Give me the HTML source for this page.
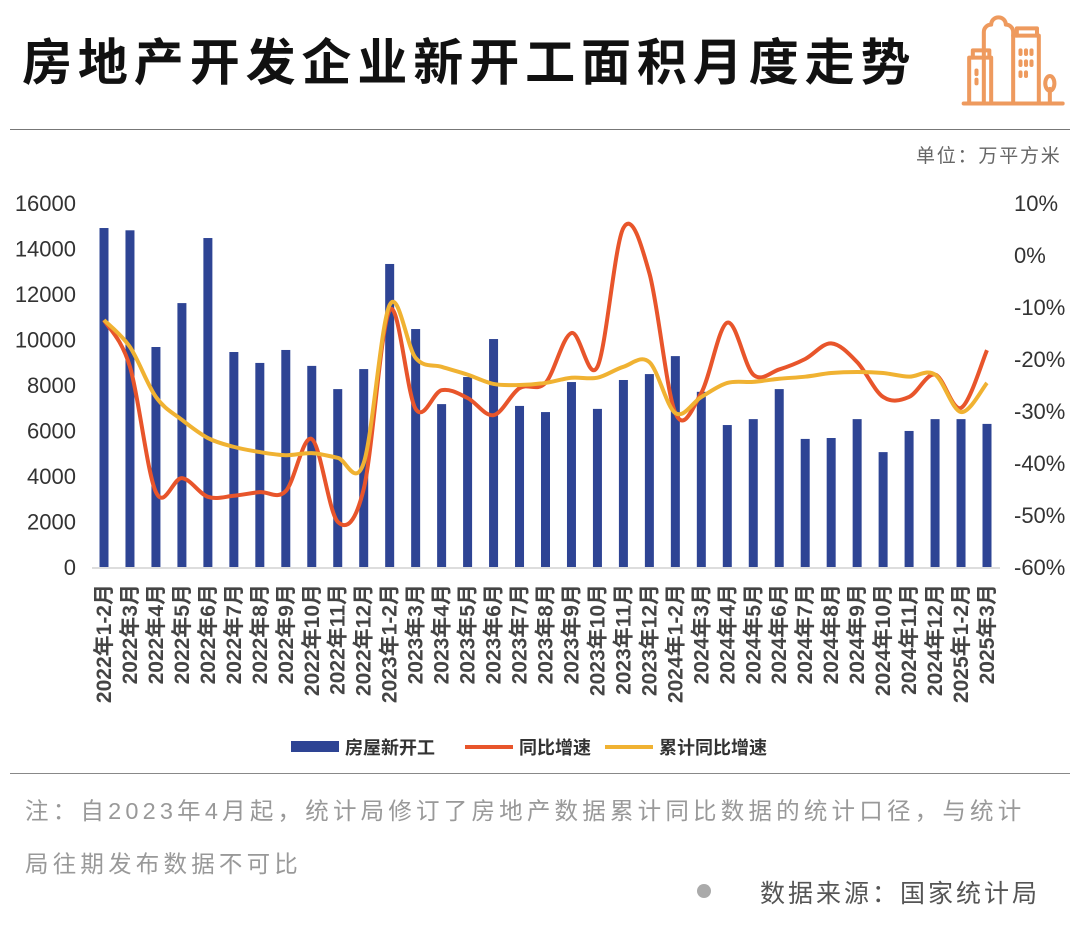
<!DOCTYPE html>
<html><head><meta charset="utf-8"><style>
html,body{margin:0;padding:0;background:#fff;}
body{width:1080px;height:936px;overflow:hidden;position:relative;font-family:"Liberation Sans","Noto Sans CJK SC",sans-serif;}
.t{position:absolute;white-space:nowrap;}
</style></head><body>
<div class="t" style="left:22px;top:33px;font-size:50px;line-height:60px;font-weight:bold;color:#111;letter-spacing:5.9px;">房地产开发企业新开工面积月度走势</div>
<svg style="position:absolute;left:960px;top:10px" width="110" height="110" viewBox="0 0 60 60" fill="none" stroke="#ee9a5e" stroke-width="2.2" stroke-linecap="round" stroke-linejoin="round">
<path d="M2 51h54"/><path d="M5 51V26h12v25"/><path d="M7 26v-4h9v4"/><path d="M13 51V23"/><path d="M13 21V12a4 4 0 0 1 4-4 4 4 0 0 1 4-4 4 4 0 0 1 4 4 4 4 0 0 1 4 4v39"/><path d="M29 14h14v37"/><path d="M31 14v-4h11v4"/>
<path d="M9 33v2M9 38v2M33 22v2M36 22v2M39 22v2M33 28v2M36 28v2M39 28v2M33 34v2M36 34v2"/><path d="M49 51v-8"/><ellipse cx="49" cy="40" rx="2.5" ry="4"/>
</svg>
<div style="position:absolute;left:10px;top:129px;width:1060px;height:1px;background:#777"></div>
<div class="t" style="left:916px;top:141px;font-size:19px;color:#666;letter-spacing:1.8px;">单位：万平方米</div>
<svg id="chart" style="position:absolute;left:0;top:0" width="1080" height="780"></svg>
<div style="position:absolute;left:10px;top:773px;width:1060px;height:1px;background:#888"></div>
<div class="t" style="left:25px;top:785px;font-size:23.5px;color:#999;line-height:53px;letter-spacing:4.2px;">注：自2023年4月起，统计局修订了房地产数据累计同比数据的统计口径，与统计<br>局往期发布数据不可比</div>
<div style="position:absolute;left:697px;top:884px;width:14px;height:14px;border-radius:50%;background:#aaa"></div>
<div class="t" style="left:760px;top:874px;font-size:25px;color:#555;letter-spacing:3px;">数据来源：国家统计局</div>
<script>
const categories=["2022年1-2月","2022年3月","2022年4月","2022年5月","2022年6月","2022年7月","2022年8月","2022年9月","2022年10月","2022年11月","2022年12月","2023年1-2月","2023年3月","2023年4月","2023年5月","2023年6月","2023年7月","2023年8月","2023年9月","2023年10月","2023年11月","2023年12月","2024年1-2月","2024年3月","2024年4月","2024年5月","2024年6月","2024年7月","2024年8月","2024年9月","2024年10月","2024年11月","2024年12月","2025年1-2月","2025年3月"];
const newStarts=[14900,14800,9670,11600,14460,9450,8970,9540,8840,7820,8700,13320,10460,7160,8350,10020,7080,6810,8130,6950,8220,8480,9270,7700,6240,6500,7820,5630,5670,6500,5050,5980,6500,6500,6290];
const yoy=[-12.5,-21.5,-45.6,-42.9,-46.5,-46.3,-45.6,-45.4,-35.4,-51.3,-45.0,-10.6,-29.6,-26,-27.5,-30.8,-25.6,-24.6,-15,-21.5,5.2,-3.5,-30.4,-26.5,-13,-23,-22,-20,-17,-20.6,-27.3,-27.3,-23,-29.4,-18.3];
const cumYoy=[-12.5,-17.7,-27.3,-31.7,-35.2,-36.9,-37.9,-38.5,-38.1,-39,-40,-9.6,-19.8,-21.5,-23,-24.8,-25,-24.6,-23.6,-23.6,-21.5,-20.6,-30.4,-27.3,-24.6,-24.4,-23.8,-23.4,-22.7,-22.5,-22.7,-23.4,-23,-30.2,-24.6];
const leftTicks=[0,2000,4000,6000,8000,10000,12000,14000,16000];
const rightTicks=[-60,-50,-40,-30,-20,-10,0,10];
const NS="http://www.w3.org/2000/svg";
const svg=document.getElementById('chart');
const x0=104,x1=987,yB=567,yT=203;
const xPos=i=>x0+(x1-x0)*i/(categories.length-1);
const yL=v=>yB-(v/16000)*(yB-yT);
const yR=v=>yB-((v+60)/70)*(yB-yT);
function mk(t,a){const e=document.createElementNS(NS,t);for(const k in a)e.setAttribute(k,a[k]);svg.appendChild(e);return e;}
let ax=mk('line',{x1:92,x2:1000,y1:yB+1,y2:yB+1,stroke:'#ddd','stroke-width':2});


leftTicks.forEach(v=>{const t=mk('text',{x:76,y:yL(v)+8,'text-anchor':'end','font-size':22,fill:'#333','font-family':'Liberation Sans, sans-serif'});t.textContent=v;

});
rightTicks.forEach(v=>{const t=mk('text',{x:1014,y:yR(v)+8,'font-size':22,fill:'#333','font-family':'Liberation Sans, sans-serif'});t.textContent=v+'%';

});
newStarts.forEach((v,i)=>{const r=mk('rect',{x:xPos(i)-4.5,y:yL(v),width:9,height:yB-yL(v),fill:'#2e4494'});

});
categories.forEach((c,i)=>{const t=mk('text',{transform:`translate(${xPos(i)+7},584) rotate(-90)`,'text-anchor':'end','font-size':21,'font-weight':'bold',fill:'#444','font-family':'Liberation Sans, Noto Sans CJK SC, sans-serif'});t.textContent=c;

});
function smooth(pts){let d=`M${pts[0][0]},${pts[0][1]}`;for(let i=0;i<pts.length-1;i++){const p0=pts[i-1]||pts[i],p1=pts[i],p2=pts[i+1],p3=pts[i+2]||p2;const k=1/6;d+=` C${p1[0]+(p2[0]-p0[0])*k},${p1[1]+(p2[1]-p0[1])*k} ${p2[0]-(p3[0]-p1[0])*k},${p2[1]-(p3[1]-p1[1])*k} ${p2[0]},${p2[1]}`;}return d;}
const l1=mk('path',{d:smooth(yoy.map((v,i)=>[xPos(i),yR(v)])),fill:'none',stroke:'#e8552b','stroke-width':4});


const l2=mk('path',{d:smooth(cumYoy.map((v,i)=>[xPos(i),yR(v)])),fill:'none',stroke:'#f0b232','stroke-width':4});


const leg=[['房屋新开工','#2e4494',295,'rect'],['同比增速','#e8552b',465,'line'],['累计同比增速','#f0b232',605,'line']];
leg.forEach(([n,c,x,k])=>{let s;if(k==='rect')s=mk('rect',{x:x-4,y:741,width:48,height:11,fill:c});else s=mk('rect',{x:x,y:745,width:48,height:4,fill:c});


const t=mk('text',{x:(k==='rect'?x+50:x+54),y:754,'font-size':18,'font-weight':'bold',fill:'#333','font-family':'Liberation Sans, Noto Sans CJK SC, sans-serif'});t.textContent=n;

});
</script>
</body></html>
